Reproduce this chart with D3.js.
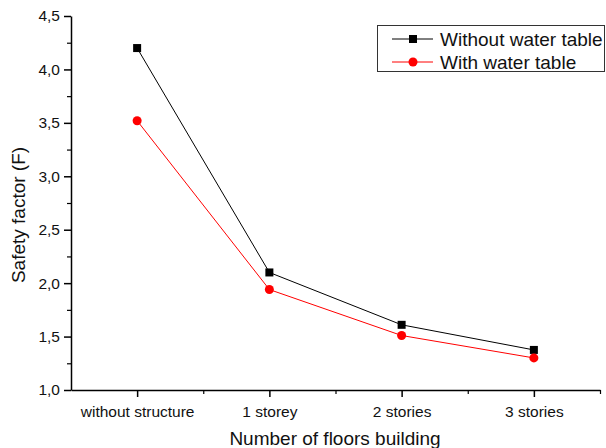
<!DOCTYPE html>
<html><head><meta charset="utf-8">
<script src="https://cdn.jsdelivr.net/npm/d3@7"></script>
<style>body{margin:0;background:#fff}svg{display:block}text{font-family:"Liberation Sans",Arial,sans-serif;fill:#111}</style>
</head><body>
<svg id="c" width="606" height="448"></svg>
<script>
const categories = ["without structure", "1 storey", "2 stories", "3 stories"];
const withoutWater = [4.20, 2.10, 1.61, 1.375];
const withWater = [3.52, 1.94, 1.51, 1.30];
const yTicks = [1.0, 1.5, 2.0, 2.5, 3.0, 3.5, 4.0, 4.5];
const seriesNames = ["Without water table", "With water table"];

const svg = d3.select("#c");
const L = 71, R = 600, T = 16, B = 390;
const x = d3.scaleLinear().domain([0.5, 4.5]).range([L, R]);
const y = d3.scaleLinear().domain([1.0, 4.5]).range([B, T]);
const fmt = d => d3.format(".1f")(d).replace(".", ",");

// Y axis
const yAxis = svg.append("g").attr("transform", `translate(${L},0)`)
  .call(d3.axisLeft(y).tickValues(yTicks).tickFormat(fmt).tickSizeInner(7).tickSizeOuter(0).tickPadding(4));
yAxis.select(".domain").attr("stroke-width", 1.5).attr("stroke", "#000");
yAxis.selectAll(".tick line").attr("stroke-width", 1.5).attr("stroke", "#000");
yAxis.selectAll("text").attr("font-size", 15.5).style("font-family", '"Liberation Sans",Arial,sans-serif').attr("fill", "#111");
svg.append("g").attr("transform", `translate(${L},0)`)
  .call(d3.axisLeft(y).tickValues(d3.range(1.25, 4.5, 0.5)).tickFormat("").tickSizeInner(4).tickSizeOuter(0))
  .call(g => { g.select(".domain").remove(); g.selectAll("line").attr("stroke-width", 1.2).attr("stroke", "#000"); });

// X axis
const xAxis = svg.append("g").attr("transform", `translate(0,${B})`)
  .call(d3.axisBottom(x).tickValues([1, 2, 3, 4]).tickFormat((d, i) => categories[i]).tickSizeInner(7).tickSizeOuter(0).tickPadding(9));
xAxis.select(".domain").attr("stroke-width", 1.5).attr("stroke", "#000");
xAxis.selectAll(".tick line").attr("stroke-width", 1.5).attr("stroke", "#000");
xAxis.selectAll("text").attr("font-size", 15.5).style("font-family", '"Liberation Sans",Arial,sans-serif').attr("fill", "#111");
svg.append("g").attr("transform", `translate(0,${B})`)
  .call(d3.axisBottom(x).tickValues([1.5, 2.5, 3.5, 4.5]).tickFormat("").tickSizeInner(4).tickSizeOuter(0))
  .call(g => { g.select(".domain").remove(); g.selectAll("line").attr("stroke-width", 1.2).attr("stroke", "#000"); });

// Titles
svg.append("text").attr("x", 335).attr("y", 445).attr("text-anchor", "middle").attr("font-size", 19).text("Number of floors building");
svg.append("text").attr("transform", "translate(25,215) rotate(-90)").attr("text-anchor", "middle").attr("font-size", 19).text("Safety factor (F)");

// Lines
const line = d3.line().x((d, i) => x(i + 1)).y(d => y(d));
svg.append("path").datum(withoutWater).attr("d", line).attr("fill", "none").attr("stroke", "#000").attr("stroke-width", 1);
svg.append("path").datum(withWater).attr("d", line).attr("fill", "none").attr("stroke", "#ff0000").attr("stroke-width", 1);
svg.selectAll(".sq").data(withoutWater).join("rect")
  .attr("x", (d, i) => x(i + 1) - 4).attr("y", d => y(d) - 4).attr("width", 8).attr("height", 8).attr("fill", "#000");
svg.selectAll(".ci").data(withWater).join("circle")
  .attr("cx", (d, i) => x(i + 1)).attr("cy", d => y(d)).attr("r", 4.5).attr("fill", "#ff0000");

// Legend
const lg = svg.append("g");
lg.append("rect").attr("x", 377.5).attr("y", 25.5).attr("width", 227).attr("height", 46).attr("fill", "#fff").attr("stroke", "#333").attr("stroke-width", 1);
const rows = [{n: seriesNames[0], c: "#000", sym: "sq", yy: 39}, {n: seriesNames[1], c: "#ff0000", sym: "ci", yy: 62}];
rows.forEach(r => {
  lg.append("line").attr("x1", 392).attr("x2", 433).attr("y1", r.yy).attr("y2", r.yy).attr("stroke", r.c).attr("stroke-width", 1);
  if (r.sym === "sq") lg.append("rect").attr("x", 409).attr("y", r.yy - 4).attr("width", 8).attr("height", 8).attr("fill", r.c);
  else lg.append("circle").attr("cx", 413).attr("cy", r.yy).attr("r", 4.5).attr("fill", r.c);
  lg.append("text").attr("x", 440).attr("y", r.yy + 6.5).attr("font-size", 19).text(r.n);
});
</script>
</body></html>
